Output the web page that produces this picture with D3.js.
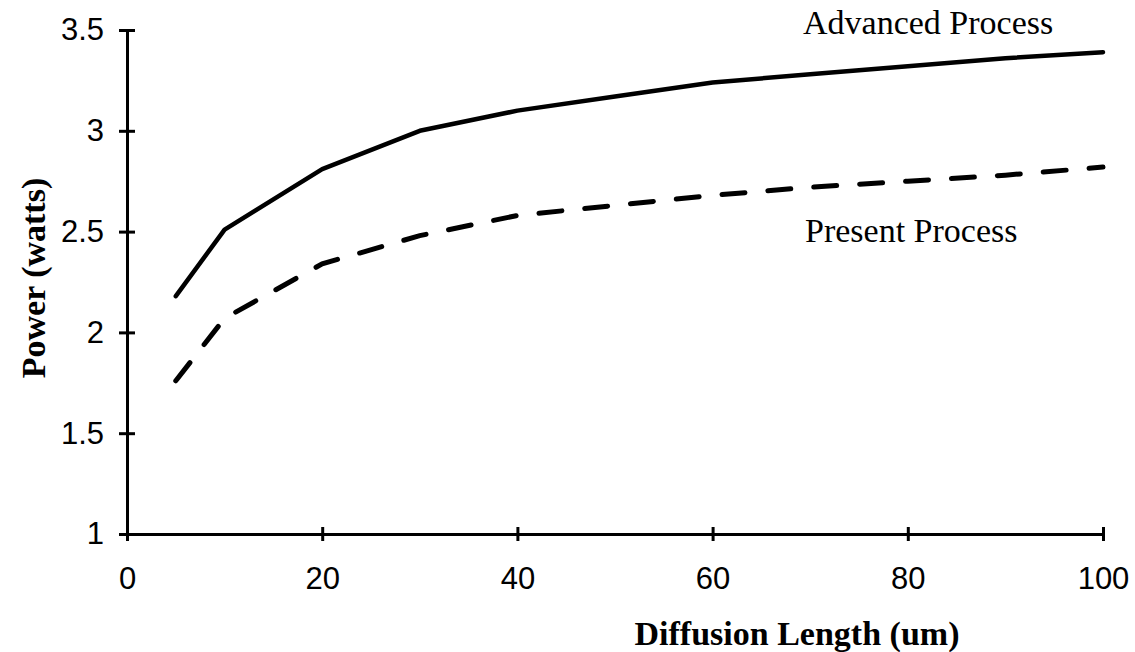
<!DOCTYPE html>
<html>
<head>
<meta charset="utf-8">
<script src="https://cdn.jsdelivr.net/npm/d3@7"></script>
<style>
  body { margin: 0; background: #fff; }
  .tick text { font-family: "Liberation Sans", Arial, sans-serif; font-size: 31px; fill: #000; }
  .axis-title { font-family: "Liberation Serif", "Times New Roman", serif; font-weight: bold; font-size: 34px; }
  .note { font-family: "Liberation Serif", "Times New Roman", serif; font-size: 34px; }
</style>
</head>
<body>
<div id="chart"></div>
<script>
// diffusion length (um)
var lengths = [5, 10, 20, 30, 40, 50, 60, 70, 80, 90, 100];
// power (watts)
var advanced = [2.18, 2.51, 2.81, 3.0, 3.10, 3.17, 3.24, 3.28, 3.32, 3.36, 3.39];
var present = [1.76, 2.07, 2.34, 2.48, 2.58, 2.63, 2.68, 2.72, 2.75, 2.78, 2.82];

var xTicks = [0, 20, 40, 60, 80, 100];
var yTicks = [1, 1.5, 2, 2.5, 3, 3.5];

var svgWidth = 1135;
var svgHeight = 652;

var svg = d3.select("#chart")
  .append("svg")
  .attr("width", svgWidth)
  .attr("height", svgHeight);

var x = d3.scaleLinear().domain([0, 100]).range([127, 1103]);
var y = d3.scaleLinear().domain([1, 3.5]).range([534, 30]);

// axes, ticks cross the line on both sides
var xAxis = svg.append("g")
  .attr("transform", `translate(0, ${y(1)})`)
  .call(d3.axisBottom(x).tickValues(xTicks).tickSize(7).tickSizeOuter(0).tickPadding(26).tickFormat(d => String(d)));
xAxis.selectAll(".tick line").attr("y1", -7);

var yAxis = svg.append("g")
  .attr("transform", `translate(${x(0)}, 0)`)
  .call(d3.axisLeft(y).tickValues(yTicks).tickSize(8).tickSizeOuter(0).tickPadding(15).tickFormat(d => String(d)));
yAxis.selectAll(".tick line").attr("x1", 8);

svg.selectAll(".domain, .tick line")
  .attr("stroke", "#000")
  .attr("stroke-width", 3);

var line = d3.line()
  .x((d, i) => x(lengths[i]))
  .y(d => y(d));

svg.append("path")
  .datum(advanced)
  .attr("d", line)
  .attr("fill", "none")
  .attr("stroke", "#000")
  .attr("stroke-width", 4.5)
  .attr("stroke-linecap", "round")
  .attr("stroke-linejoin", "round");

svg.append("path")
  .datum(present)
  .attr("d", line)
  .attr("fill", "none")
  .attr("stroke", "#000")
  .attr("stroke-width", 5)
  .attr("stroke-dasharray", "23,23")
  .attr("stroke-linecap", "round");

// labels
svg.append("text")
  .attr("class", "note")
  .attr("x", 803)
  .attr("y", 34)
  .text("Advanced Process");

svg.append("text")
  .attr("class", "note")
  .attr("x", 805)
  .attr("y", 242)
  .text("Present Process");

svg.append("text")
  .attr("class", "axis-title")
  .attr("text-anchor", "middle")
  .attr("x", 797)
  .attr("y", 645)
  .text("Diffusion Length (um)");

svg.append("text")
  .attr("class", "axis-title")
  .attr("text-anchor", "middle")
  .attr("transform", "translate(45, 278) rotate(-90)")
  .text("Power (watts)");
</script>
</body>
</html>
